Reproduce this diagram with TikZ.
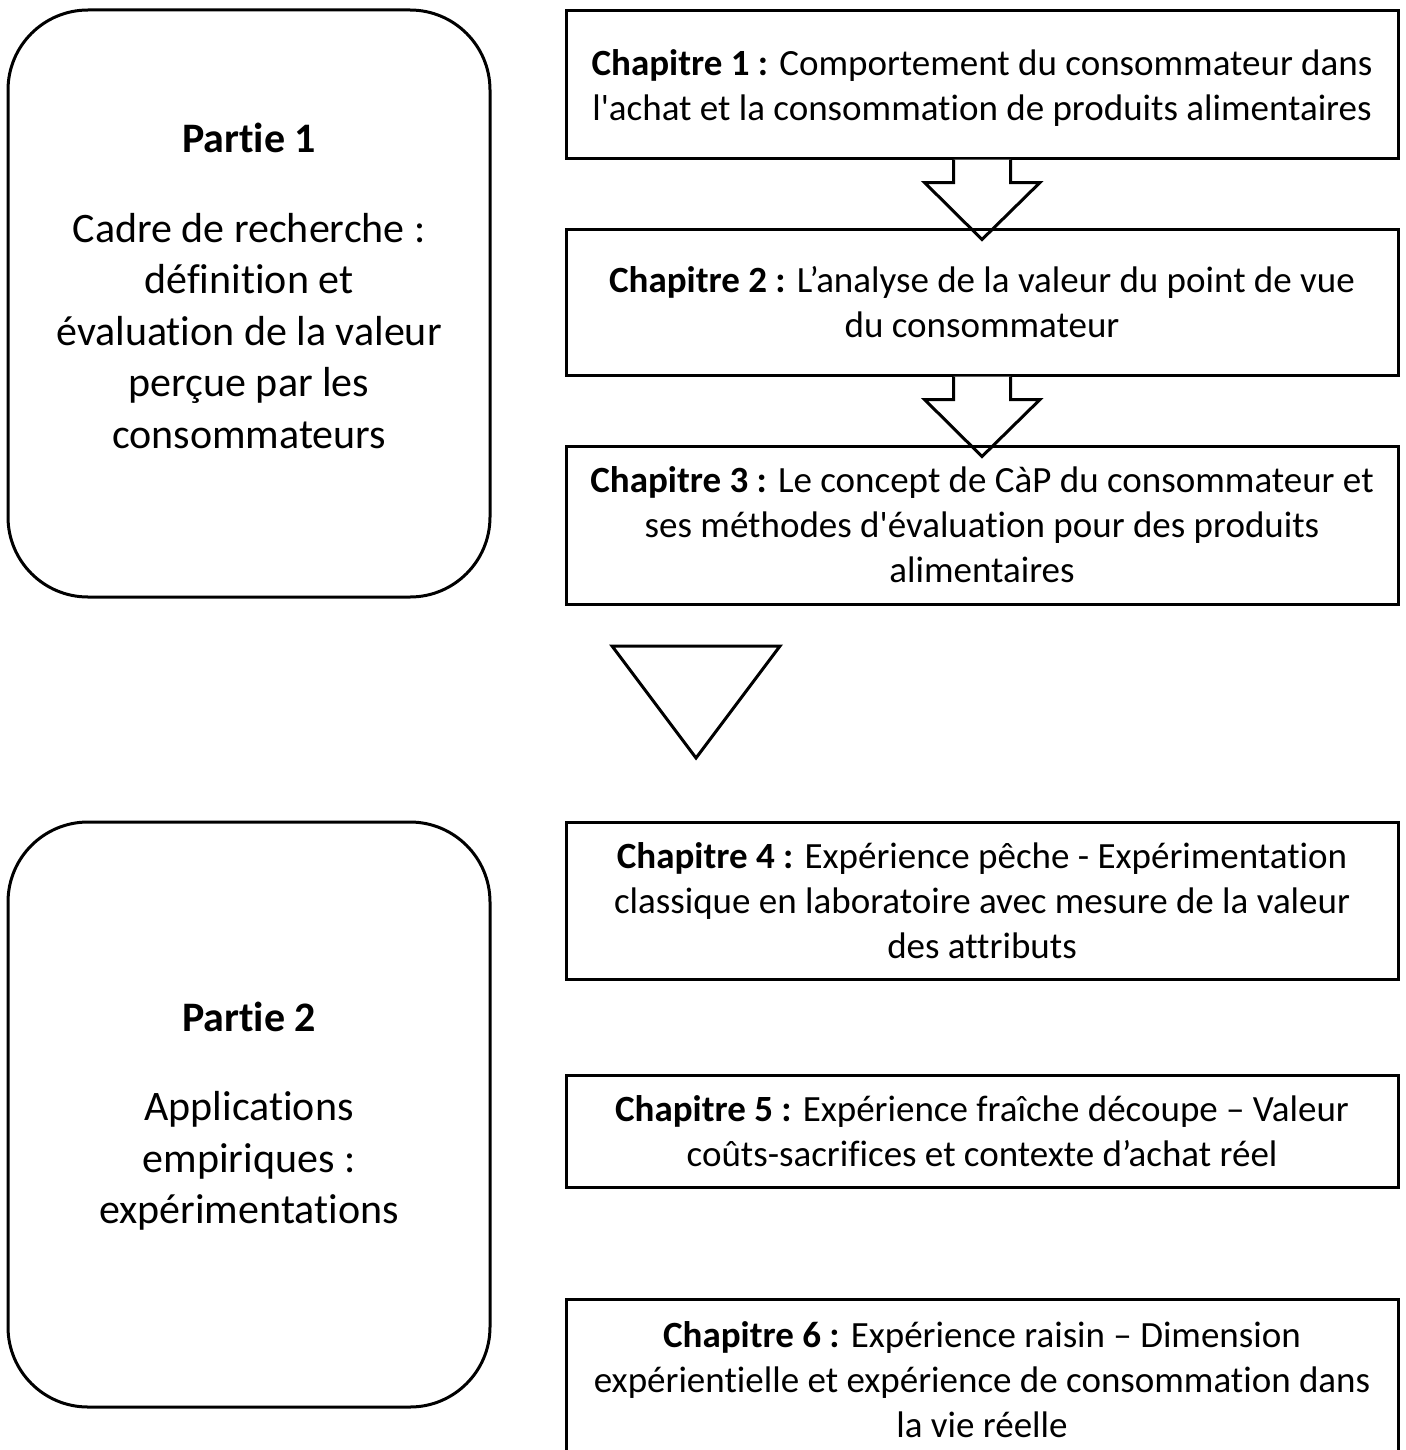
\documentclass[tikz,border=0pt]{standalone}
\usepackage{fontspec}
\setmainfont{Carlito}[Ligatures={NoCommon,TeXOff}]
\usetikzlibrary{positioning, calc}

\tikzset{
  chap/.style={draw, line width=1.5pt, minimum width=416pt, align=center,
               font=\fontsize{18.5}{22.5}\selectfont},
  partie/.style={draw, line width=1.5pt, rounded corners=40pt, minimum width=241pt,
                 align=center, font=\fontsize{21}{25.75}\selectfont},
  partietext/.style={align=center, font=\fontsize{21}{25.75}\selectfont},
  blockarrow/.style={draw, fill=white, line width=1.5pt, line join=miter},
}

\begin{document}
\begin{tikzpicture}[x=0.5pt, y=-0.5pt]
  \useasboundingbox (0,0) rectangle (1405,1450);

  % parties
  \node[partie, minimum height=293.5pt] (p1) at (249,303.5) {};
  \node[partietext] (p1t) at (249,286) {\textbf{Partie 1}\\[19pt]
    Cadre de recherche :\\ définition et\\ évaluation de la valeur\\
    perçue par les\\ consommateurs};

  \node[partie, minimum height=292.5pt] (p2) at (249,1114.5) {};
  \node[partietext] (p2t) at (249,1116) {\textbf{Partie 2}\\[19pt]
    Applications\\ empiriques :\\ expérimentations};

  % chapitres 1 a 3
  \node[chap, minimum height=73.5pt] (ch1) at (982,84.5) {};
  \node[chap, draw=none, minimum height=0pt] (ch1t) at (982,88)
    {\textbf{Chapitre 1 :} Comportement du consommateur dans\\
     l'achat et la consommation de produits alimentaires};
  \draw[blockarrow] ($(ch1.south)+(-28.5,0)$) -- ++(0,23) -- ++(-29,0)
    -- ($(ch1.south)+(0,80)$) -- ($(ch1.south)+(58,23)$) -- ++(-29.5,0) -- ++(0,-23);

  \node[chap, minimum height=73pt] (ch2) at (982,302)
    {\textbf{Chapitre 2 :} L’analyse de la valeur du point de vue\\
     du consommateur};
  \draw[blockarrow] ($(ch2.south)+(-28.5,0)$) -- ++(0,23) -- ++(-29,0)
    -- ($(ch2.south)+(0,80)$) -- ($(ch2.south)+(58,23)$) -- ++(-29.5,0) -- ++(0,-23);

  \node[chap, minimum height=79pt] (ch3) at (982,525)
    {\textbf{Chapitre 3 :} Le concept de CàP du consommateur et\\
     ses méthodes d'évaluation pour des produits\\ alimentaires};

  % passage de la partie 1 a la partie 2
  \draw[blockarrow] (612,646) -- (780,646) -- (696,758) -- cycle;

  % chapitres 4 a 6
  \node[chap, minimum height=78.5pt] (ch4) at (982,900.5)
    {\textbf{Chapitre 4 :} Expérience pêche - Expérimentation\\
     classique en laboratoire avec mesure de la valeur\\ des attributs};
  \node[chap, minimum height=56pt] (ch5) at (982,1131)
    {\textbf{Chapitre 5 :} Expérience fraîche découpe – Valeur\\
     coûts-sacrifices et contexte d’achat réel};
  \node[chap, minimum height=81pt] (ch6) at (982,1380)
    {\textbf{Chapitre 6 :} Expérience raisin – Dimension\\
     expérientielle et expérience de consommation dans\\ la vie réelle};
\end{tikzpicture}
\end{document}
